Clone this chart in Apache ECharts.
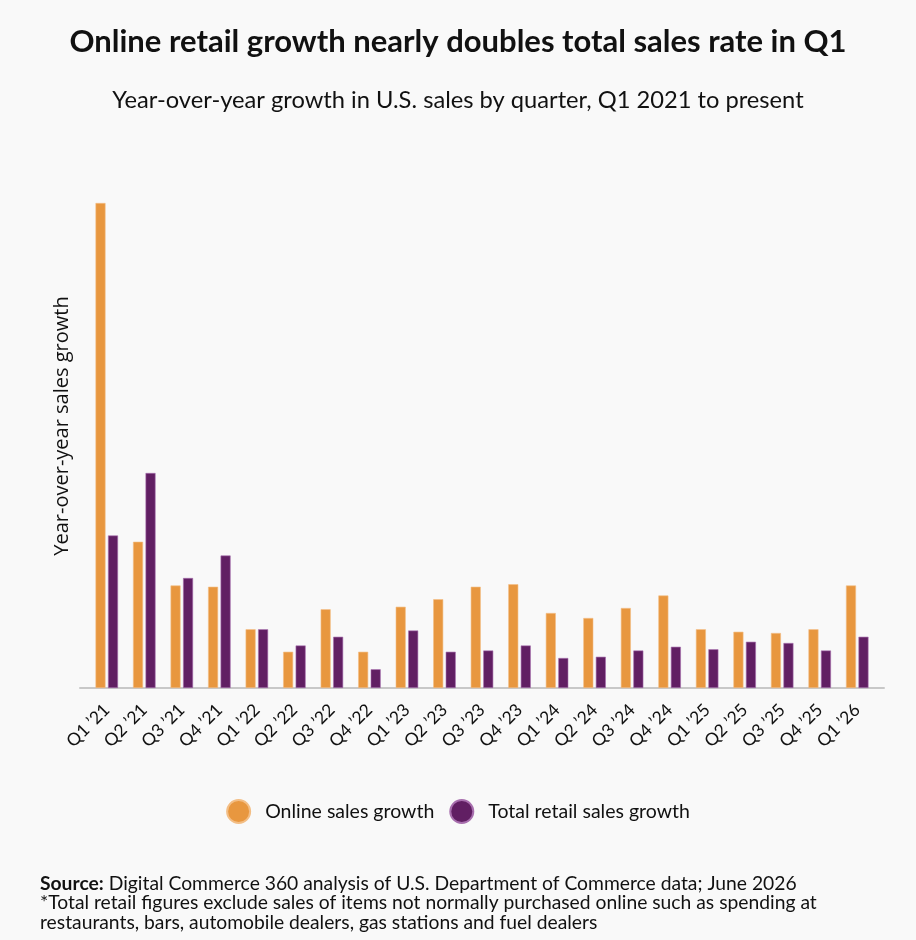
<!DOCTYPE html>
<html>
<head>
<meta charset="utf-8">
<script src="https://cdn.jsdelivr.net/npm/echarts@6/dist/echarts.min.js"></script>
<style>
html,body{margin:0;padding:0;background:#F9F9F9;}
#c{width:916px;height:940px;}
</style>
</head>
<body>
<div id="c"></div>
<script>
var categories = ["Q1 \u201921","Q2 \u201921","Q3 \u201921","Q4 \u201921","Q1 \u201922","Q2 \u201922","Q3 \u201922","Q4 \u201922","Q1 \u201923","Q2 \u201923","Q3 \u201923","Q4 \u201923","Q1 \u201924","Q2 \u201924","Q3 \u201924","Q4 \u201924","Q1 \u201925","Q2 \u201925","Q3 \u201925","Q4 \u201925","Q1 \u201926"];
var onlineGrowth = [38.8,11.7,8.2,8.1,4.7,2.9,6.3,2.9,6.5,7.1,8.1,8.3,6.0,5.6,6.4,7.4,4.7,4.5,4.4,4.7,8.2];
var totalGrowth = [12.2,17.2,8.8,10.6,4.7,3.4,4.1,1.5,4.6,2.9,3.0,3.4,2.4,2.5,3.0,3.3,3.1,3.7,3.6,3.0,4.1];
var seriesNames = ["Online sales growth","Total retail sales growth"];
var colors = ["#E8973F","#611F63"];

var chart = echarts.init(document.getElementById('c'));
chart.setOption({
  backgroundColor: '#F9F9F9',
  textStyle: {fontFamily: 'Lato'},
  title: [
    {text: 'Online retail growth nearly doubles total sales rate in Q1', left: 'center', top: 21,
     textStyle: {fontFamily: 'Lato', fontWeight: 'bold', fontSize: 31, color: '#111'}},
    {text: 'Year-over-year growth in U.S. sales by quarter, Q1 2021 to present', left: 'center', top: 83,
     textStyle: {fontFamily: 'Lato', fontWeight: 'normal', fontSize: 23.7, color: '#111'}},
    {text: '{b|Source:} Digital Commerce 360 analysis of U.S. Department of Commerce data; June 2026\n*Total retail figures exclude sales of items not normally purchased online such as spending at\nrestaurants, bars, automobile dealers, gas stations and fuel dealers',
     left: 35, top: 869,
     textStyle: {fontFamily: 'Lato', fontWeight: 'normal', fontSize: 19.3, color: '#111', lineHeight: 19.5,
       rich: {b: {fontFamily: 'Lato', fontWeight: 'bold', fontSize: 19.3, color: '#111', lineHeight: 19.5}}}}
  ],
  graphic: [{
    type: 'text', x: 62, y: 426, rotation: Math.PI / 2,
    style: {text: 'Year-over-year sales growth', fontFamily: 'Open Sans', fontSize: 20, fill: '#111',
      textAlign: 'center', textVerticalAlign: 'middle'}
  }],
  legend: {
    data: seriesNames, top: 794, left: 'center', icon: 'circle', itemWidth: 23, itemHeight: 23, itemGap: 15,
    textStyle: {fontFamily: 'Lato', fontSize: 19.5, color: '#111', padding: [0, 0, 0, 10]}
  },
  grid: [
    {left: 80, right: 32, top: 188, height: 500},
    {left: 88, right: 40, top: 188, height: 500}
  ],
  xAxis: [
    {type: 'value', gridIndex: 0, min: 0, max: 1, axisLine: {show: true, onZero: false, lineStyle: {color: '#C8C8C8', width: 2}},
     axisTick: {show: false}, axisLabel: {show: false}, splitLine: {show: false}},
    {type: 'category', gridIndex: 1, data: categories, axisLine: {show: false}, axisTick: {show: false},
     axisLabel: {rotate: 45, margin: 19, fontFamily: 'Lato', fontSize: 17.5, color: '#111', interval: 0}}
  ],
  yAxis: [
    {type: 'value', gridIndex: 0, min: 0, max: 40, show: false},
    {type: 'value', gridIndex: 1, min: 0, max: 40, show: false}
  ],
  series: [
    {name: seriesNames[0], type: 'bar', xAxisIndex: 1, yAxisIndex: 1, data: onlineGrowth, barWidth: 10, barGap: '25%',
     itemStyle: {color: colors[0], borderColor: '#F3BE85', borderWidth: 0.6}},
    {name: seriesNames[1], type: 'bar', xAxisIndex: 1, yAxisIndex: 1, data: totalGrowth, barWidth: 10, barGap: '25%',
     itemStyle: {color: colors[1], borderColor: '#A86FAE', borderWidth: 0.6}}
  ]
});
</script>
</body>
</html>
